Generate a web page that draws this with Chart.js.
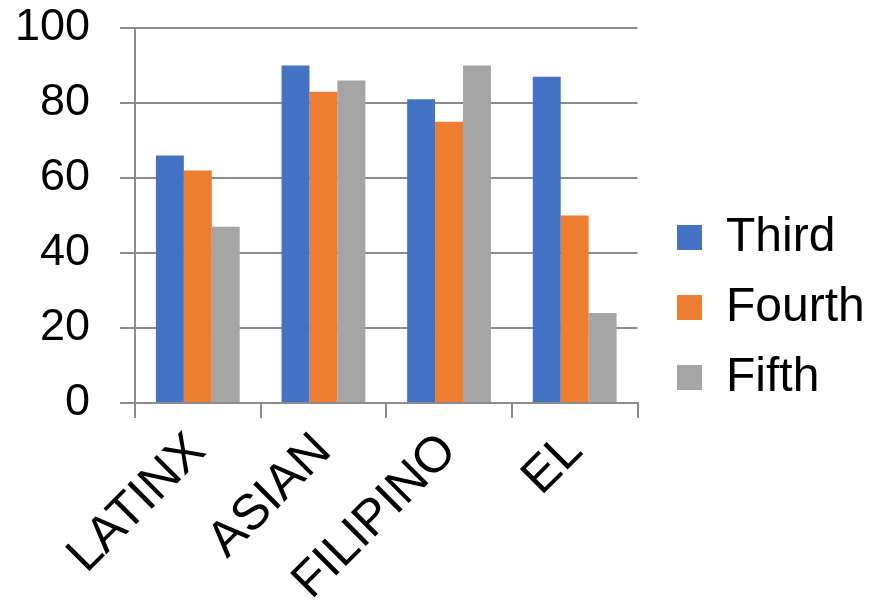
<!DOCTYPE html>
<html>
<head>
<meta charset="utf-8">
<script src="https://cdn.jsdelivr.net/npm/chart.js@4"></script>
<style>
  html, body { margin: 0; padding: 0; background: #fff; }
  #wrap { width: 870px; height: 601px; }
</style>
</head>
<body>
<div id="wrap"><canvas id="myChart"></canvas></div>
<script>
// data
var groups = ["LATINX", "ASIAN", "FILIPINO", "EL"];
var third = [66, 90, 81, 87];
var fourth = [62, 83, 75, 50];
var fifth = [47, 86, 90, 24];
var yTicks = [0, 20, 40, 60, 80, 100];

var axisGray = "#8c8c8c";
Chart.defaults.font.family = "'Liberation Sans', Arial, sans-serif";
Chart.defaults.color = "#000";

// push the legend boxes a bit right of the plot, and keep it centred like the original
var legendPlace = {
  id: "legendPlace",
  afterLayout: function (chart) {
    var lg = chart.legend;
    var w = lg.right - lg.left;
    lg.left = 655;
    lg.right = lg.left + w;
    lg.top = 14;
    lg.bottom = 601;
  },
};

var ctx = document.getElementById("myChart");
var myChart = new Chart(ctx, {
  type: "bar",
  data: {
    labels: groups,
    datasets: [
      { label: "Third", data: third, backgroundColor: "#4472C4" },
      { label: "Fourth", data: fourth, backgroundColor: "#ED7D31" },
      { label: "Fifth", data: fifth, backgroundColor: "#A5A5A5" },
    ],
  },
  plugins: [legendPlace],
  options: {
    responsive: true,
    maintainAspectRatio: false,
    animation: false,
    layout: { padding: { left: 15, right: 25, top: 28, bottom: 0 } },
    datasets: {
      bar: { categoryPercentage: 0.667, barPercentage: 1 },
    },
    plugins: {
      tooltip: { enabled: false },
      legend: {
        position: "right",
        labels: {
          boxWidth: 25,
          boxHeight: 25,
          padding: 22,
          font: { size: 48 },
        },
      },
    },
    scales: {
      x: {
        afterFit: function (axis) {
          axis.paddingLeft = 0;
          axis.paddingRight = 0;
          axis.height = 198;
        },
        grid: {
          drawOnChartArea: false,
          color: axisGray,
          lineWidth: 2,
          tickLength: 15,
        },
        border: { color: axisGray, width: 2 },
        ticks: {
          minRotation: 45,
          maxRotation: 45,
          font: { size: 50 },
          padding: 4,
        },
      },
      y: {
        min: 0,
        max: 100,
        afterBuildTicks: function (axis) {
          axis.ticks = yTicks.map(function (v) { return { value: v }; });
        },
        afterFit: function (axis) {
          axis.width = 120;
          axis.paddingTop = 0;
          axis.paddingBottom = 0;
        },
        grid: { color: axisGray, lineWidth: 2, tickLength: 15 },
        border: { color: axisGray, width: 2 },
        ticks: { font: { size: 45 }, padding: 30 },
      },
    },
  },
});
</script>
</body>
</html>
